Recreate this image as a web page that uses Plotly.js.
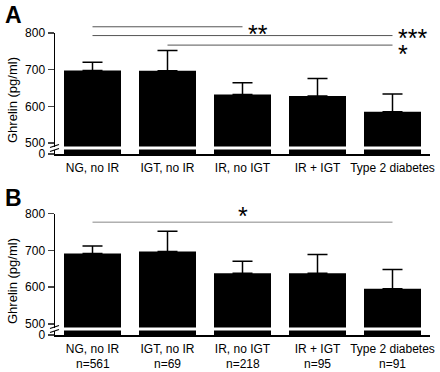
<!DOCTYPE html>
<html><head><meta charset="utf-8">
<script src="https://cdn.plot.ly/plotly-3.0.1.min.js"></script>
<style>html,body{margin:0;padding:0;background:#fff}#chart{width:440px;height:372px}</style>
</head><body><div id="chart"></div><script>
const categories = ['NG, no IR', 'IGT, no IR', 'IR, no IGT', 'IR + IGT', 'Type 2 diabetes'];
const nLabels = ['n=561', 'n=69', 'n=218', 'n=95', 'n=91'];
const meanA = [698, 697, 632, 628, 585];
const errA = [22, 55, 32, 48, 49];
const meanB = [692, 697, 638, 638, 596];
const errB = [20, 55, 33, 51, 52];
// [from index, to index, label, level (pg/ml)]
const sigA = [[0, 2, '**', 817], [0, 4, '***', 793], [1, 4, '*', 767]];
const sigB = [[0, 4, '*', 777]];
const yTicks = [500, 600, 700, 800];

const W = 440, H = 372;
const px = v => 1 - v / H;
const FONT = 'Liberation Sans, Arial, sans-serif';

const panels = [
  {x: 'x', top: 'y', bot: 'y2', topDom: [146.5, 33], botDom: [154, 149.5], mean: meanA, err: errA, sig: sigA, letter: 'A', lineColor: '#555'},
  {x: 'x2', top: 'y3', bot: 'y4', topDom: [327.5, 213.7], botDom: [335, 330.5], mean: meanB, err: errB, sig: sigB, letter: 'B', lineColor: '#888'}
];
const topRange = [490.5, 800];
const botRange = [0, 12];

const traces = [];
const layout = {
  width: W, height: H,
  margin: {l: 0, r: 0, t: 0, b: 0},
  paper_bgcolor: '#fff', plot_bgcolor: '#fff',
  showlegend: false, bargap: 0.24,
  font: {family: FONT, size: 12, color: '#000'},
  shapes: [], annotations: []
};
const xDom = [55 / W, 430 / W];

panels.forEach((p, k) => {
  traces.push({type: 'bar', x: categories, y: p.mean, xaxis: p.x, yaxis: p.top,
    marker: {color: '#000', line: {width: 0}},
    error_y: {type: 'data', array: p.err, arrayminus: p.err.map(() => 0), symmetric: false, color: '#000', thickness: 1.5, width: 10}});
  traces.push({type: 'bar', x: categories, y: p.mean, xaxis: p.x, yaxis: p.bot,
    marker: {color: '#000', line: {width: 0}}});
  const xName = k === 0 ? 'xaxis' : 'xaxis2';
  const tName = 'yaxis' + (k === 0 ? '' : '3');
  const bName = 'yaxis' + (k === 0 ? '2' : '4');
  layout[xName] = {domain: xDom, anchor: p.bot, type: 'category', range: [-0.5, 4.5],
    showline: true, linecolor: '#000', linewidth: 1.5, ticks: '', showgrid: false, zeroline: false,
    ticklabelstandoff: 2, tickfont: {size: 12, family: FONT}, fixedrange: true};
  const td = [px(p.topDom[0]), px(p.topDom[1])];
  const bd = [px(p.botDom[0]), px(p.botDom[1])];
  layout[tName] = {domain: td, anchor: p.x, range: topRange, tickvals: yTicks, ticks: 'outside', ticklen: 6,
    tickwidth: 1.5, showline: true, linecolor: '#000', linewidth: 1.5, showgrid: false, zeroline: false,
    tickfont: {size: 12, family: FONT}};
  layout[bName] = {domain: bd, anchor: p.x, range: botRange, tickvals: [0], ticks: 'outside', ticklen: 6,
    tickwidth: 1.5, showline: true, linecolor: '#000', linewidth: 1.5, showgrid: false, zeroline: false,
    tickfont: {size: 12, family: FONT}};
  // significance brackets
  const toPaper = v => td[0] + (v - topRange[0]) / (topRange[1] - topRange[0]) * (td[1] - td[0]);
  p.sig.forEach(s => {
    const yy = toPaper(s[3]);
    layout.shapes.push({type: 'line', xref: p.x, yref: 'paper', x0: s[0], x1: s[1], y0: yy, y1: yy,
      line: {color: p.lineColor, width: 1}});
  });
  // break marks
  const gapC = (p.topDom[0] + p.botDom[1]) / 2;
  [-2, 2].forEach(d => {
    layout.shapes.push({type: 'line', xref: 'paper', yref: 'paper', x0: 50 / W, x1: 59 / W,
      y0: px(gapC + d + 1.5), y1: px(gapC + d - 1.5), line: {color: '#000', width: 1.2}});
  });
  // panel letter
  layout.annotations.push({xref: 'paper', yref: 'paper', x: 13 / W, y: px(k === 0 ? 15 : 198), text: '<b>' + p.letter + '</b>',
    showarrow: false, xanchor: 'center', yanchor: 'middle', font: {size: 23, family: FONT, color: '#000'}});
  // y title
  layout.annotations.push({xref: 'paper', yref: 'paper', x: 12 / W, y: px(k === 0 ? 100 : 281), text: 'Ghrelin (pg/ml)',
    textangle: -90, showarrow: false, xanchor: 'center', yanchor: 'middle', font: {size: 13, family: FONT, color: '#000'}});
});

// star labels
const tdA = [px(146.5), px(33)];
const toPaperA = v => tdA[0] + (v - topRange[0]) / (topRange[1] - topRange[0]) * (tdA[1] - tdA[0]);
const starShiftA = [[3, -7], [3, -2], [3, -9]];
sigA.forEach((s, i) => {
  layout.annotations.push({xref: 'x', yref: 'paper', x: s[1], y: toPaperA(s[3]), text: s[2], showarrow: false,
    xanchor: 'left', yanchor: 'middle', xshift: starShiftA[i][0], yshift: starShiftA[i][1],
    font: {size: 25, family: FONT, color: '#000'}});
});
const tdB = [px(327.5), px(213.7)];
const toPaperB = v => tdB[0] + (v - topRange[0]) / (topRange[1] - topRange[0]) * (tdB[1] - tdB[0]);
sigB.forEach(s => {
  layout.annotations.push({xref: 'x2', yref: 'paper', x: (s[0] + s[1]) / 2, y: toPaperB(s[3]), text: s[2], showarrow: false,
    xanchor: 'center', yanchor: 'bottom', yshift: -10, font: {size: 25, family: FONT, color: '#000'}});
});
// n labels
nLabels.forEach((t, i) => {
  layout.annotations.push({xref: 'x2', yref: 'paper', x: categories[i], y: px(364), text: t, showarrow: false,
    xanchor: 'center', yanchor: 'middle', font: {size: 12, family: FONT, color: '#000'}});
});

Plotly.newPlot('chart', traces, layout, {displayModeBar: false, staticPlot: true});
</script></body></html>
